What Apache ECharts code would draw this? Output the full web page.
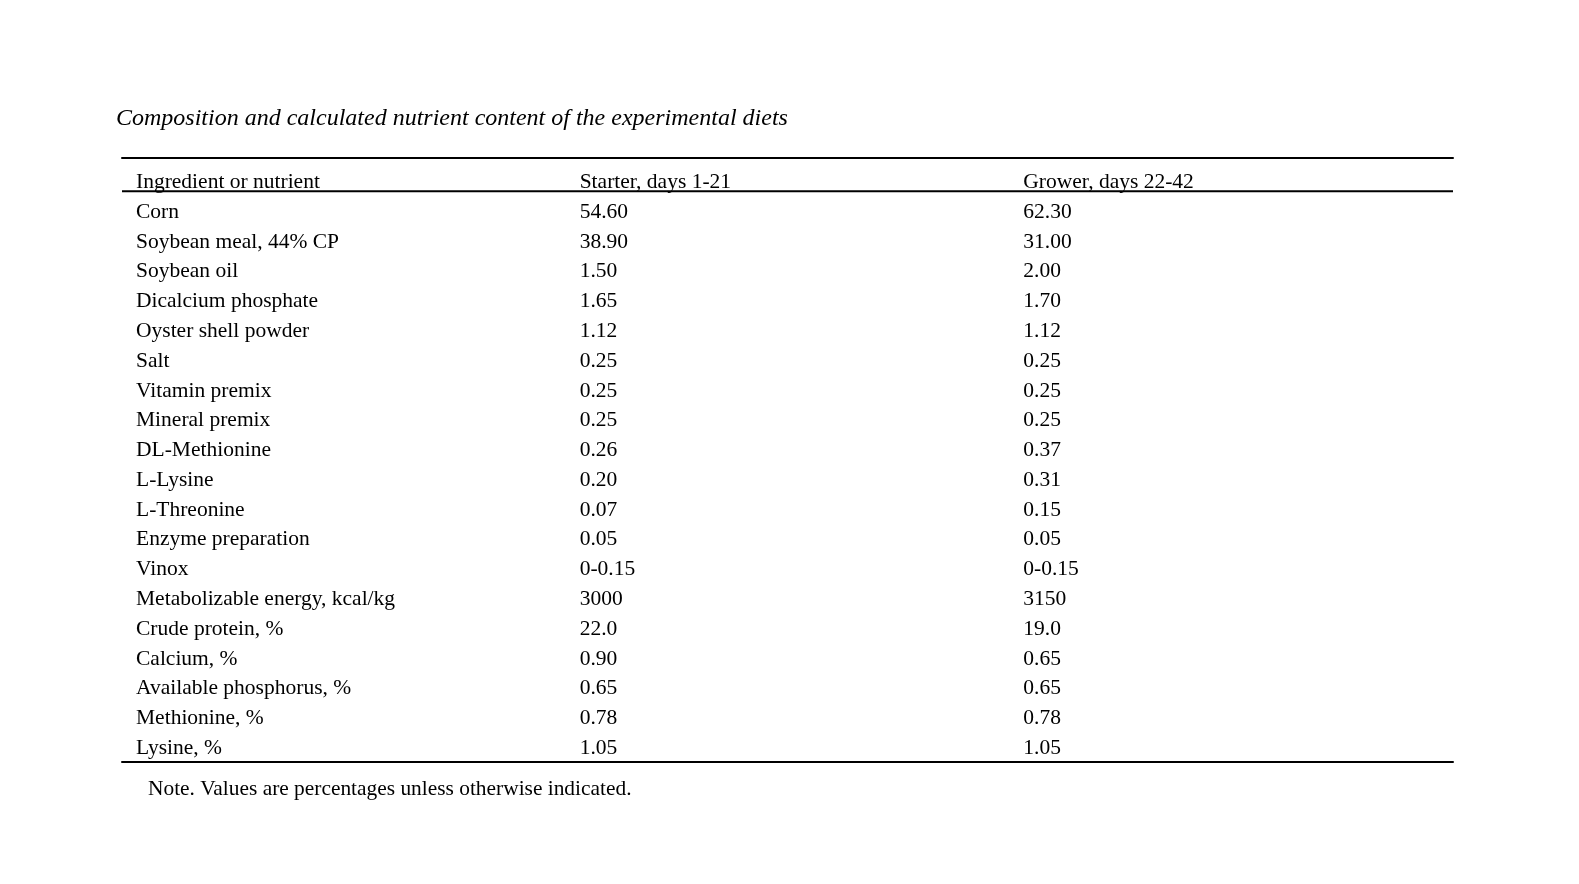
<!DOCTYPE html>
<html>
<head>
<meta charset="utf-8">
<script src="https://cdn.jsdelivr.net/npm/echarts@6/dist/echarts.min.js"></script>
<style>
html,body{margin:0;padding:0;background:#fff;}
#chart{width:1579px;height:884px;}
</style>
</head>
<body>
<div id="chart"></div>
<script>
const title = 'Composition and calculated nutrient content of the experimental diets';
const note = 'Note. Values are percentages unless otherwise indicated.';
const headers = ['Ingredient or nutrient', 'Starter, days 1-21', 'Grower, days 22-42'];
const ingredients = ['Corn', 'Soybean meal, 44% CP', 'Soybean oil', 'Dicalcium phosphate', 'Oyster shell powder', 'Salt', 'Vitamin premix', 'Mineral premix', 'DL-Methionine', 'L-Lysine', 'L-Threonine', 'Enzyme preparation', 'Vinox', 'Metabolizable energy, kcal/kg', 'Crude protein, %', 'Calcium, %', 'Available phosphorus, %', 'Methionine, %', 'Lysine, %'];
const starter = ['54.60', '38.90', '1.50', '1.65', '1.12', '0.25', '0.25', '0.25', '0.26', '0.20', '0.07', '0.05', '0-0.15', '3000', '22.0', '0.90', '0.65', '0.78', '1.05'];
const grower = ['62.30', '31.00', '2.00', '1.70', '1.12', '0.25', '0.25', '0.25', '0.37', '0.31', '0.15', '0.05', '0-0.15', '3150', '19.0', '0.65', '0.65', '0.78', '1.05'];
const headerRule = [0.3];

const columns = [ingredients, starter, grower];
const cells = [];
const cellText = [];
headers.forEach((h, c) => { cells.push([c, 0]); cellText.push(h); });
columns.forEach((col, c) => col.forEach((t, r) => { cells.push([c, r + 1]); cellText.push(t); }));

const FONT = '"Liberation Serif", "Times New Roman", serif';
const chart = echarts.init(document.getElementById('chart'));
chart.setOption({
  animation: false,
  backgroundColor: '#fff',
  title: [
    { text: title, left: 111, top: 102, textStyle: { fontFamily: FONT, fontStyle: 'italic', fontWeight: 'normal', fontSize: 24, color: '#000' } },
    { text: note, left: 143, top: 774, textStyle: { fontFamily: FONT, fontWeight: 'normal', fontSize: 21.4, color: '#000' } }
  ],
  grid: { left: 122, right: 126, top: 158, bottom: 122 },
  xAxis: [
    { type: 'category', data: headers, position: 'bottom', axisLine: { show: true, onZero: false, lineStyle: { color: '#000', width: 2 } }, axisTick: { show: false }, axisLabel: { show: false }, splitLine: { show: false } },
    { type: 'category', data: headers, position: 'top', axisLine: { show: true, onZero: false, lineStyle: { color: '#000', width: 2 } }, axisTick: { show: false }, axisLabel: { show: false }, splitLine: { show: false } }
  ],
  yAxis: { type: 'value', inverse: true, min: -0.82, max: 19.46, show: false, splitLine: { show: false } },
  series: [
    {
      type: 'custom',
      xAxisIndex: 0,
      data: cells,
      renderItem: function (params, api) {
        const p = api.coord([api.value(0), api.value(1)]);
        const bw = api.size([1, 0])[0];
        return {
          type: 'text',
          x: p[0] - bw / 2 + 14,
          y: p[1],
          style: { text: cellText[params.dataIndex], fontFamily: FONT, fontSize: 21.5, fill: '#000', align: 'left', verticalAlign: 'middle' }
        };
      }
    },
    {
      type: 'custom',
      xAxisIndex: 0,
      data: headerRule.map(v => [0, v]),
      renderItem: function (params, api) {
        const p = api.coord([0, api.value(1)]);
        const cs = params.coordSys;
        return {
          type: 'line',
          shape: { x1: cs.x, y1: p[1], x2: cs.x + cs.width, y2: p[1] },
          style: { stroke: '#000', lineWidth: 2 }
        };
      }
    }
  ]
});
</script>
</body>
</html>
